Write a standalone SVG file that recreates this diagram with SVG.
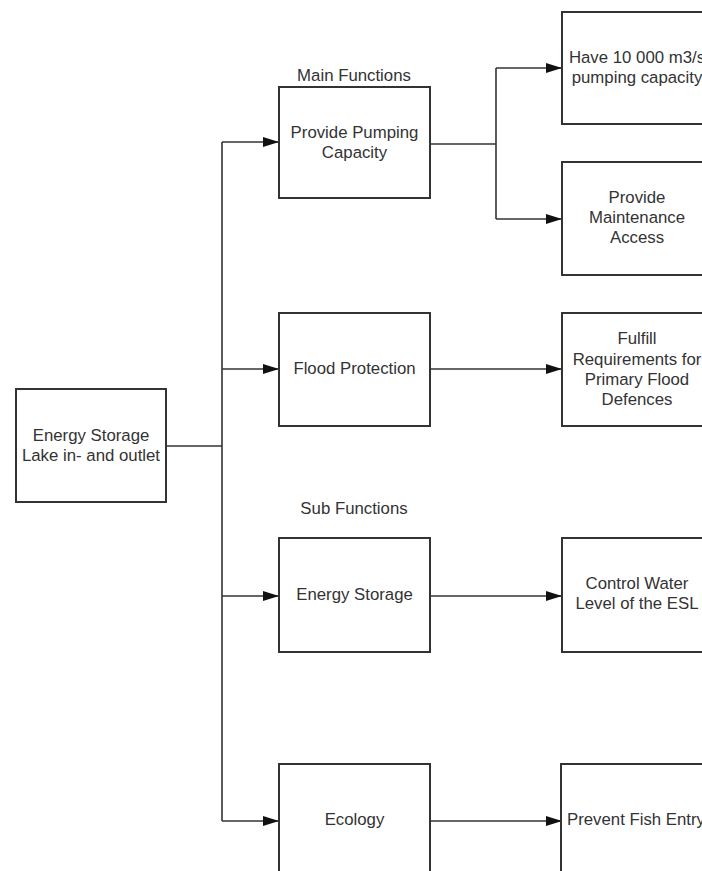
<svg xmlns="http://www.w3.org/2000/svg" width="702" height="871" viewBox="0 0 702 871">
<defs>
<marker id="arr" markerWidth="16" markerHeight="10" refX="16" refY="5" orient="auto" markerUnits="userSpaceOnUse">
<path d="M0,0 L16,5 L0,10 Z" fill="#111"/>
</marker>
<style>
.box{fill:#fff;stroke:#333;stroke-width:2}
.t{font-family:"Liberation Sans",Arial,sans-serif;font-size:16.8px;fill:#333;text-anchor:middle}
.c{fill:none;stroke:#333;stroke-width:1.6}
</style>
</defs>
<rect width="702" height="871" fill="#fff"/>
<text class="t" x="354" y="81">Main Functions</text>
<text class="t" x="354" y="514">Sub Functions</text>
<g id="connectors">
<path class="c" d="M166,446 H222"/>
<path class="c" d="M222,142 V821"/>
<path class="c" d="M222,142 H279" marker-end="url(#arr)"/>
<path class="c" d="M222,369 H279" marker-end="url(#arr)"/>
<path class="c" d="M222,596 H279" marker-end="url(#arr)"/>
<path class="c" d="M222,821 H279" marker-end="url(#arr)"/>
<path class="c" d="M430,144 H496"/>
<path class="c" d="M496,68 V219"/>
<path class="c" d="M496,68 H562" marker-end="url(#arr)"/>
<path class="c" d="M496,219 H562" marker-end="url(#arr)"/>
<path class="c" d="M430,369 H562" marker-end="url(#arr)"/>
<path class="c" d="M430,596 H562" marker-end="url(#arr)"/>
<path class="c" d="M430,821 H562" marker-end="url(#arr)"/>
</g>
<g id="root">
<rect class="box" x="16" y="389" width="150" height="113"/>
<text class="t" x="91" y="441">Energy Storage</text>
<text class="t" x="91" y="461">Lake in- and outlet</text>
</g>
<g id="pumping">
<rect class="box" x="279" y="87" width="151" height="111"/>
<text class="t" x="354.5" y="138">Provide Pumping</text>
<text class="t" x="354.5" y="158">Capacity</text>
</g>
<g id="flood">
<rect class="box" x="279" y="313" width="151" height="113"/>
<text class="t" x="354.5" y="374">Flood Protection</text>
</g>
<g id="energy">
<rect class="box" x="279" y="538" width="151" height="114"/>
<text class="t" x="354.5" y="600">Energy Storage</text>
</g>
<g id="ecology">
<rect class="box" x="279" y="764" width="151" height="113"/>
<text class="t" x="354.5" y="825">Ecology</text>
</g>
<g id="capacity">
<rect class="box" x="562" y="12" width="150" height="112"/>
<text class="t" x="637" y="63">Have 10 000 m3/s</text>
<text class="t" x="637" y="83">pumping capacity</text>
</g>
<g id="maintenance">
<rect class="box" x="562" y="162" width="150" height="113"/>
<text class="t" x="637" y="203">Provide</text>
<text class="t" x="637" y="223">Maintenance</text>
<text class="t" x="637" y="243">Access</text>
</g>
<g id="requirements">
<rect class="box" x="562" y="313" width="150" height="113"/>
<text class="t" x="637" y="344">Fulfill</text>
<text class="t" x="637" y="365">Requirements for</text>
<text class="t" x="637" y="385">Primary Flood</text>
<text class="t" x="637" y="405">Defences</text>
</g>
<g id="waterlevel">
<rect class="box" x="562" y="538" width="150" height="114"/>
<text class="t" x="637" y="589">Control Water</text>
<text class="t" x="637" y="609">Level of the ESL</text>
</g>
<g id="fish">
<rect class="box" x="561" y="764" width="150" height="113"/>
<text class="t" x="636" y="825">Prevent Fish Entry</text>
</g>
</svg>
